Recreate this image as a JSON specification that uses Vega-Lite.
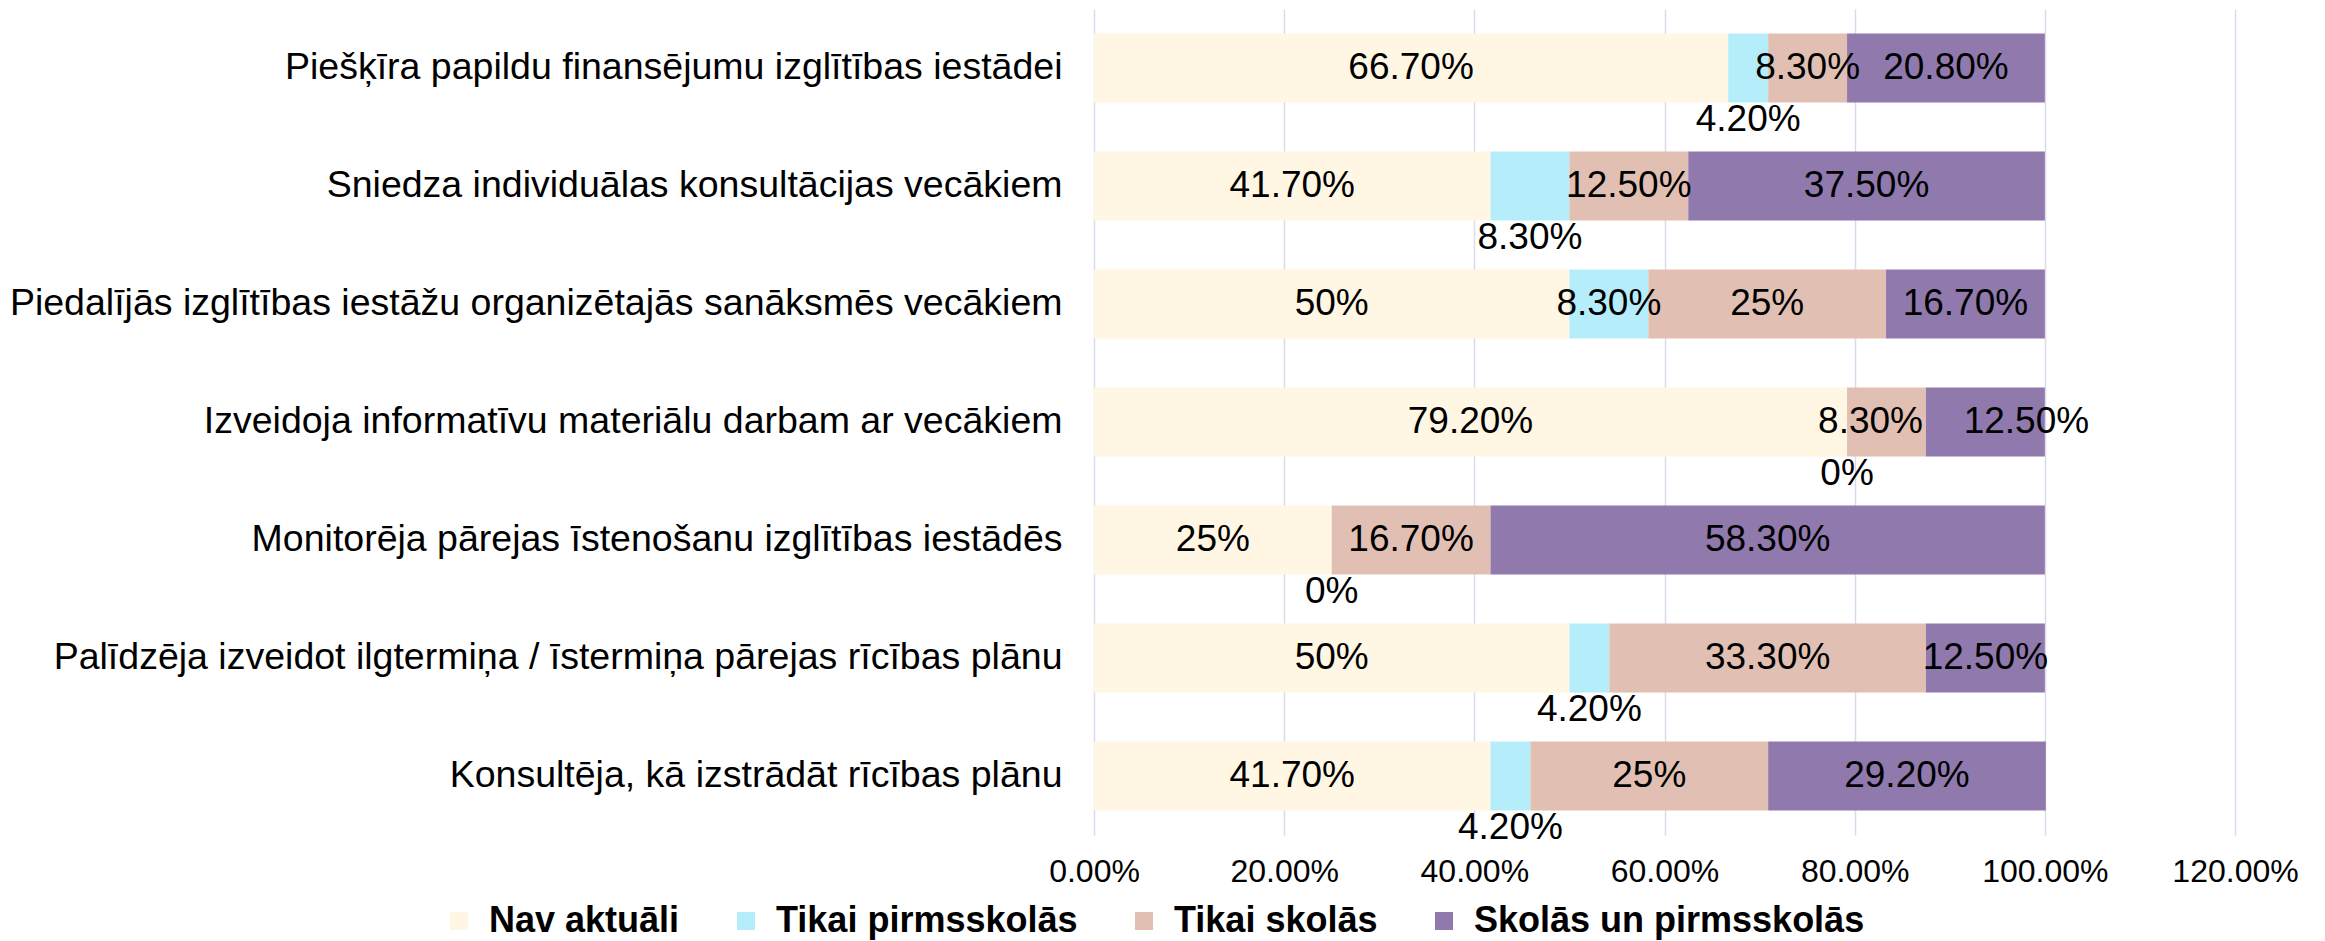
{
  "$schema": "https://vega.github.io/schema/vega-lite/v6.json",
  "width": 1141,
  "height": 826,
  "autosize": {"type": "none"},
  "padding": {"left": 1094, "top": 9, "right": 90, "bottom": 106},
  "background": "white",
  "config": {"view": {"stroke": null}, "font": "Liberation Sans"},
  "data": {
    "values": [
      {"cat": "Piešķīra papildu finansējumu izglītības iestādei", "series": "Nav aktuāli", "v": 0.667},
      {"cat": "Piešķīra papildu finansējumu izglītības iestādei", "series": "Tikai pirmsskolās", "v": 0.042},
      {"cat": "Piešķīra papildu finansējumu izglītības iestādei", "series": "Tikai skolās", "v": 0.083},
      {"cat": "Piešķīra papildu finansējumu izglītības iestādei", "series": "Skolās un pirmsskolās", "v": 0.208},
      {"cat": "Sniedza individuālas konsultācijas vecākiem", "series": "Nav aktuāli", "v": 0.417},
      {"cat": "Sniedza individuālas konsultācijas vecākiem", "series": "Tikai pirmsskolās", "v": 0.083},
      {"cat": "Sniedza individuālas konsultācijas vecākiem", "series": "Tikai skolās", "v": 0.125},
      {"cat": "Sniedza individuālas konsultācijas vecākiem", "series": "Skolās un pirmsskolās", "v": 0.375},
      {"cat": "Piedalījās izglītības iestāžu organizētajās sanāksmēs vecākiem", "series": "Nav aktuāli", "v": 0.5},
      {"cat": "Piedalījās izglītības iestāžu organizētajās sanāksmēs vecākiem", "series": "Tikai pirmsskolās", "v": 0.083},
      {"cat": "Piedalījās izglītības iestāžu organizētajās sanāksmēs vecākiem", "series": "Tikai skolās", "v": 0.25},
      {"cat": "Piedalījās izglītības iestāžu organizētajās sanāksmēs vecākiem", "series": "Skolās un pirmsskolās", "v": 0.167},
      {"cat": "Izveidoja informatīvu materiālu darbam ar vecākiem", "series": "Nav aktuāli", "v": 0.792},
      {"cat": "Izveidoja informatīvu materiālu darbam ar vecākiem", "series": "Tikai pirmsskolās", "v": 0},
      {"cat": "Izveidoja informatīvu materiālu darbam ar vecākiem", "series": "Tikai skolās", "v": 0.083},
      {"cat": "Izveidoja informatīvu materiālu darbam ar vecākiem", "series": "Skolās un pirmsskolās", "v": 0.125},
      {"cat": "Monitorēja pārejas īstenošanu izglītības iestādēs", "series": "Nav aktuāli", "v": 0.25},
      {"cat": "Monitorēja pārejas īstenošanu izglītības iestādēs", "series": "Tikai pirmsskolās", "v": 0},
      {"cat": "Monitorēja pārejas īstenošanu izglītības iestādēs", "series": "Tikai skolās", "v": 0.167},
      {"cat": "Monitorēja pārejas īstenošanu izglītības iestādēs", "series": "Skolās un pirmsskolās", "v": 0.583},
      {"cat": "Palīdzēja izveidot ilgtermiņa / īstermiņa pārejas rīcības plānu", "series": "Nav aktuāli", "v": 0.5},
      {"cat": "Palīdzēja izveidot ilgtermiņa / īstermiņa pārejas rīcības plānu", "series": "Tikai pirmsskolās", "v": 0.042},
      {"cat": "Palīdzēja izveidot ilgtermiņa / īstermiņa pārejas rīcības plānu", "series": "Tikai skolās", "v": 0.333},
      {"cat": "Palīdzēja izveidot ilgtermiņa / īstermiņa pārejas rīcības plānu", "series": "Skolās un pirmsskolās", "v": 0.125},
      {"cat": "Konsultēja, kā izstrādāt rīcības plānu\u00a0", "series": "Nav aktuāli", "v": 0.417},
      {"cat": "Konsultēja, kā izstrādāt rīcības plānu\u00a0", "series": "Tikai pirmsskolās", "v": 0.042},
      {"cat": "Konsultēja, kā izstrādāt rīcības plānu\u00a0", "series": "Tikai skolās", "v": 0.25},
      {"cat": "Konsultēja, kā izstrādāt rīcības plānu\u00a0", "series": "Skolās un pirmsskolās", "v": 0.292}
    ]
  },
  "transform": [
    {"calculate": "indexof(['Nav aktuāli','Tikai pirmsskolās','Tikai skolās','Skolās un pirmsskolās'], datum.series)", "as": "ord"},
    {"stack": "v", "groupby": ["cat"], "sort": [{"field": "ord", "order": "ascending"}], "as": ["x0", "x1"]},
    {"calculate": "(datum.x0 + datum.x1) / 2", "as": "xm"},
    {"calculate": "(datum.v * 100) % 1 === 0 ? format(datum.v, '.0%') : format(datum.v, '.2%')", "as": "lbl"},
    {"calculate": "datum.series === 'Tikai pirmsskolās' && datum.cat !== 'Piedalījās izglītības iestāžu organizētajās sanāksmēs vecākiem'", "as": "below"},
    {"calculate": "datum.cat === 'Izveidoja informatīvu materiālu darbam ar vecākiem' && datum.series === 'Tikai skolās'", "as": "nudgeL"},
    {"calculate": "datum.cat === 'Izveidoja informatīvu materiālu darbam ar vecākiem' && datum.series === 'Skolās un pirmsskolās'", "as": "nudgeR"}
  ],
  "encoding": {
    "y": {
      "field": "cat",
      "type": "nominal",
      "sort": [
        "Piešķīra papildu finansējumu izglītības iestādei",
        "Sniedza individuālas konsultācijas vecākiem",
        "Piedalījās izglītības iestāžu organizētajās sanāksmēs vecākiem",
        "Izveidoja informatīvu materiālu darbam ar vecākiem",
        "Monitorēja pārejas īstenošanu izglītības iestādēs",
        "Palīdzēja izveidot ilgtermiņa / īstermiņa pārejas rīcības plānu",
        "Konsultēja, kā izstrādāt rīcības plānu\u00a0"
      ],
      "scale": {"paddingInner": 0.415, "paddingOuter": 0.2075},
      "axis": {
        "title": null,
        "ticks": false,
        "domain": false,
        "grid": false,
        "labelFontSize": 37.5,
        "labelColor": "#000000",
        "labelPadding": 32,
        "labelLimit": 1100
      }
    }
  },
  "layer": [
    {
      "mark": {"type": "bar"},
      "encoding": {
        "x": {
          "field": "x0",
          "type": "quantitative",
          "scale": {"domain": [0, 1.2], "nice": false, "zero": true},
          "axis": {
            "title": null,
            "values": [0, 0.2, 0.4, 0.6, 0.8, 1, 1.2],
            "format": ".2%",
            "grid": true,
            "gridColor": "#DDD9EC",
            "gridWidth": 1.5,
            "ticks": false,
            "domain": false,
            "labelFlush": false,
            "labelOverlap": false,
            "labelFontSize": 32,
            "labelColor": "#000000",
            "labelPadding": 21
          }
        },
        "x2": {"field": "x1"},
        "color": {
          "field": "series",
          "type": "nominal",
          "scale": {
            "domain": ["Nav aktuāli", "Tikai pirmsskolās", "Tikai skolās", "Skolās un pirmsskolās"],
            "range": ["#FFF6E4", "#B6EDFA", "#E1C0B3", "#8F79AD"]
          },
          "legend": {
            "title": null,
            "orient": "none",
            "legendX": -653,
            "legendY": 894,
            "direction": "horizontal",
            "symbolType": "square",
            "symbolSize": 324,
            "symbolStrokeWidth": 0,
            "labelFontSize": 36,
            "labelFontWeight": "bold",
            "labelColor": "#000000",
            "labelOffset": 12,
            "columnPadding": 48,
            "padding": 0,
            "labelLimit": 700
          }
        }
      }
    },
    {
      "transform": [{"filter": "!datum.below && !datum.nudgeL && !datum.nudgeR"}],
      "mark": {"type": "text", "fontSize": 37, "color": "#000000", "align": "center", "baseline": "middle"},
      "encoding": {
        "x": {"field": "xm", "type": "quantitative"},
        "text": {"field": "lbl"}
      }
    },
    {
      "transform": [{"filter": "datum.nudgeL"}],
      "mark": {"type": "text", "fontSize": 37, "color": "#000000", "align": "center", "baseline": "middle", "dx": -16},
      "encoding": {
        "x": {"field": "xm", "type": "quantitative"},
        "text": {"field": "lbl"}
      }
    },
    {
      "transform": [{"filter": "datum.nudgeR"}],
      "mark": {"type": "text", "fontSize": 37, "color": "#000000", "align": "center", "baseline": "middle", "dx": 41},
      "encoding": {
        "x": {"field": "xm", "type": "quantitative"},
        "text": {"field": "lbl"}
      }
    },
    {
      "transform": [{"filter": "datum.below"}],
      "mark": {"type": "text", "fontSize": 37, "color": "#000000", "align": "center", "baseline": "middle", "dy": 52},
      "encoding": {
        "x": {"field": "xm", "type": "quantitative"},
        "text": {"field": "lbl"}
      }
    }
  ]
}
